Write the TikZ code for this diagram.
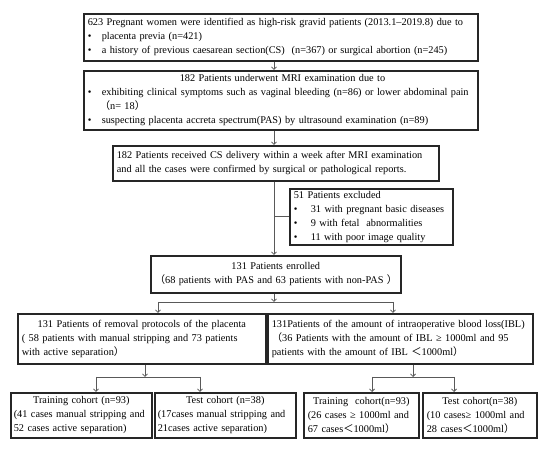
\documentclass[tikz,border=0pt]{standalone}
\usepackage{fontspec}
\setmainfont{Liberation Serif}
\newfontfamily\cjk{Noto Sans CJK SC}
\usetikzlibrary{arrows.meta}
\newcommand\fl{{\cjk （}}
\newcommand\fr{{\cjk ）}}
\newcommand\flt{{\cjk ＜}}
\newcommand\jline[1]{\hbox to\hsize{#1}}
\newcommand\lline[1]{\hbox to\hsize{#1\hfil}}
\newcommand\ctline[1]{\hbox to\hsize{\hfil#1\hfil}}
\newcommand\bline[2][14pt]{\hbox to\hsize{\hbox to #1{•\hfil}#2\hfil}}
\newcommand\bjline[2][14pt]{\hbox to\hsize{\hbox to #1{•\hfil}#2}}
\tikzset{
  box/.style={draw=black!85, line width=1.6pt, anchor=north west, inner xsep=4pt, inner ysep=1pt,
    font=\fontsize{10.3}{14}\selectfont},
  conn/.style={draw=black!65, line width=0.8pt},
  arr/.style={conn, -{Straight Barb[length=2.5pt,width=5pt]}}
}
\begin{document}
\begin{tikzpicture}[x=1pt,y=-1pt]
\path[use as bounding box, fill=white] (0,0) rectangle (550,449);

\node[box, minimum width=394pt, minimum height=47pt, text width=386pt] (b1) at (83,13) {%
\jline{623 Pregnant women were identified as high-risk gravid patients (2013.1–2019.8) due to}
\bline{placenta previa (n=421)}
\bline{a history of previous caesarean section(CS) \ (n=367) or surgical abortion (n=245)}};

\node[box, minimum width=394pt, minimum height=59pt, text width=386pt] (b2) at (83,70) {%
\lline{\hspace*{92pt}182 Patients underwent MRI examination due to}
\bjline{exhibiting clinical symptoms such as vaginal bleeding (n=86) or lower abdominal pain}
\lline{\hspace*{12pt}\fl n= 18\fr}
\bline{suspecting placenta accreta spectrum(PAS) by ultrasound examination (n=89)}};

\node[box, minimum width=326pt, minimum height=35pt, text width=318pt] (b3) at (112,145) {%
\jline{182 Patients received CS delivery within a week after MRI examination}
\lline{and all the cases were confirmed by surgical or pathological reports.}};

\node[box, minimum width=163pt, minimum height=56pt, text width=155pt] (b4) at (289,188) {%
\lline{51 Patients excluded}
\bline[17pt]{31 with pregnant basic diseases}
\bline[17pt]{9 with fetal \ abnormalities}
\bline[17pt]{11 with poor image quality}};

\node[box, minimum width=250pt, minimum height=37pt, text width=242pt] (b5) at (150,255) {%
\ctline{131 Patients enrolled}
\ctline{\fl 68 patients with PAS and 63 patients with non-PAS \fr}};

\node[box, minimum width=248pt, minimum height=50pt, text width=240pt] (b6) at (17,313) {%
\ctline{131 Patients of removal protocols of the placenta}
\jline{( 58 patients with manual stripping and 73 patients}
\lline{with active separation\fr}};

\node[box, minimum width=265pt, minimum height=50pt, text width=257pt] (b7) at (267,313) {%
\jline{131Patients of the amount of intraoperative blood loss(IBL)}
\jline{\fl 36 Patients with the amount of IBL ≥ 1000ml and 95}
\lline{patients with the amount of IBL \flt 1000ml\fr}};

\node[box, minimum width=141pt, minimum height=45pt, text width=135pt, inner xsep=3pt] (b8) at (10,392) {%
\ctline{Training cohort (n=93)}
\jline{(41 cases manual stripping and}
\lline{52 cases active separation)}};

\node[box, minimum width=141pt, minimum height=45pt, text width=135pt, inner xsep=3pt] (b9) at (154,392) {%
\ctline{Test cohort (n=38)}
\jline{(17cases manual stripping and}
\lline{21cases active separation)}};

\node[box, minimum width=115pt, minimum height=45pt, text width=107pt] (b10) at (303,392) {%
\ctline{Training \ cohort(n=93)}
\lline{(26 cases ≥ 1000ml and}
\lline{67 cases\flt 1000ml\fr}};

\node[box, minimum width=114pt, minimum height=45pt, text width=106pt] (b11) at (422,392) {%
\ctline{Test cohort(n=38)}
\lline{(10 cases≥ 1000ml and}
\lline{28 cases\flt 1000ml\fr}};

\coordinate (spine) at (274,0);
\draw[arr] (b1.south -| spine) -- (b2.north -| spine);
\draw[arr] (b2.south -| spine) -- (b3.north -| spine);
\draw[arr] (b3.south -| spine) -- (b5.north -| spine);
\draw[conn] (b4.west -| spine) -- (b4.west);

\coordinate (j1) at (274,302);
\coordinate (j1l) at (158,302);
\coordinate (j1r) at (393,302);
\draw[arr] (b5.south -| j1) -- (j1);
\draw[conn] (j1l) -- (j1r);
\draw[arr] (j1l) -- (j1l |- b6.north);
\draw[arr] (j1r) -- (j1r |- b7.north);

\coordinate (j2) at (145,377);
\coordinate (j2l) at (96,377);
\coordinate (j2r) at (200,377);
\draw[arr] (b6.south -| j2) -- (j2);
\draw[conn] (j2l) -- (j2r);
\draw[arr] (j2l) -- (j2l |- b8.north);
\draw[arr] (j2r) -- (j2r |- b9.north);

\coordinate (j3) at (413,377);
\coordinate (j3l) at (372,377);
\coordinate (j3r) at (454,377);
\draw[arr] (b7.south -| j3) -- (j3);
\draw[conn] (j3l) -- (j3r);
\draw[arr] (j3l) -- (j3l |- b10.north);
\draw[arr] (j3r) -- (j3r |- b11.north);
\end{tikzpicture}
\end{document}
